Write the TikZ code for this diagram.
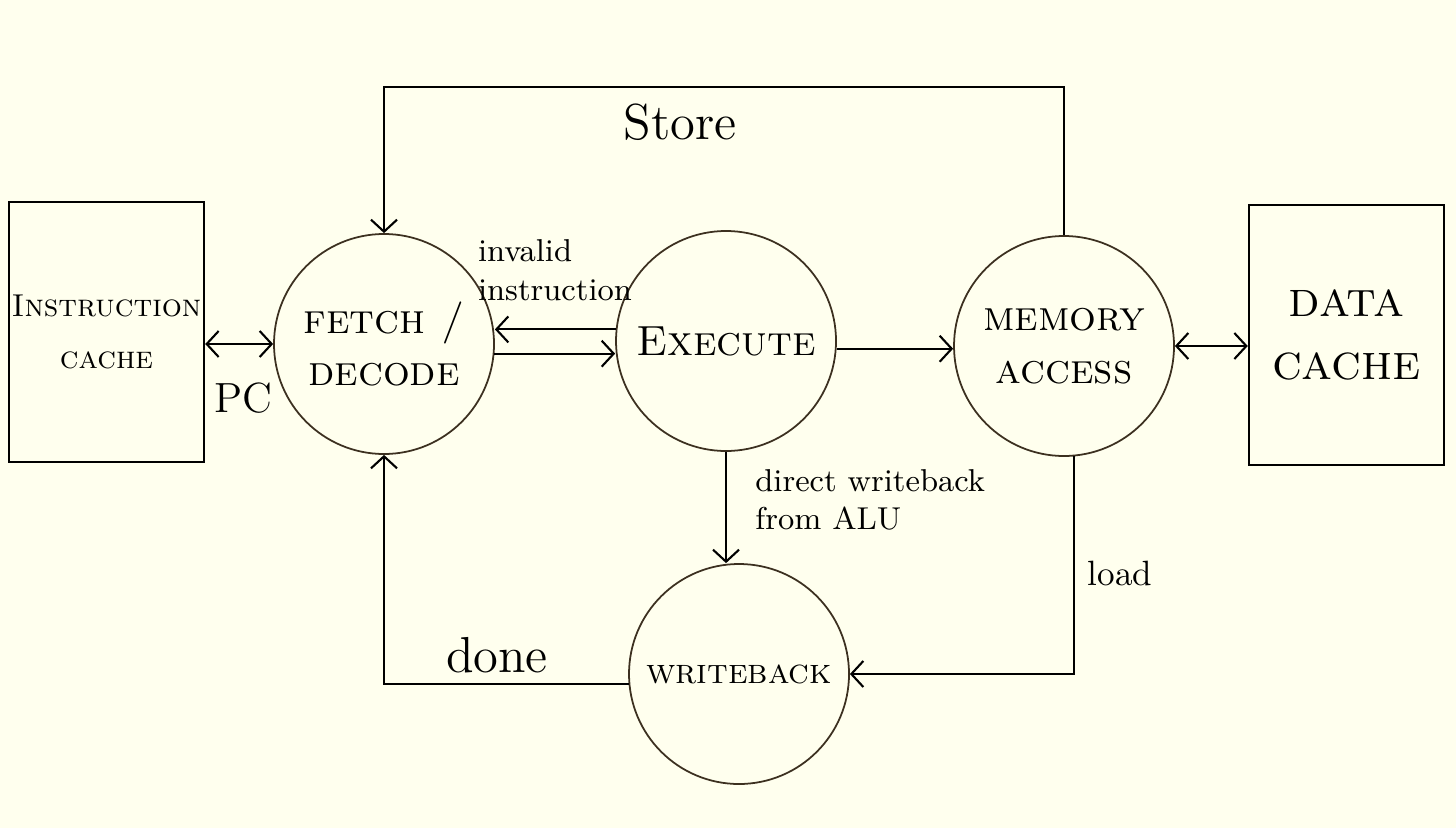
\documentclass[tikz,border=0pt]{standalone}
\usepackage{amsmath,amssymb}
\usepackage{tikz}
\usetikzlibrary{arrows.meta}
\definecolor{paper}{RGB}{255,255,238}
\definecolor{ink}{RGB}{60,48,32}

\begin{document}
\begin{tikzpicture}[
  stage/.style={circle,draw=ink,line width=0.5pt,minimum size=2.2cm,inner sep=0pt,align=center,font=\large},
  cache/.style={rectangle,draw=black,line width=0.7pt,minimum width=1.95cm,minimum height=2.6cm,inner sep=0pt,align=center},
  arr/.style={-{Straight Barb[length=1.2mm,width=2.6mm]},line width=0.6pt},
  arrs/.style={{Straight Barb[length=1.2mm,width=2.6mm]}-{Straight Barb[length=1.2mm,width=2.6mm]},line width=0.6pt}
]
\fill[paper] (0,0) rectangle (14.56,8.28);
\useasboundingbox (0,0) rectangle (14.56,8.28);

\draw (1.065,4.96) node[cache,font=\small] (IC) {\textsc{Instruction}\\[4pt]\textsc{cache}} +(12.4,-0.03) node[cache,font=\Large] (DC) {\textsc{data}\\[0pt]\textsc{cache}};
\draw (3.84,4.84) node[stage] (FD) {\textsc{fetch /}\\[1pt]\textsc{decode}} +(3.42,0.03) node[stage] (EX) {\textsc{Execute}} +(6.80,-0.02) node[stage] (MA) {\textsc{memory}\\[1pt]\textsc{access}} +(3.55,-3.30) node[stage,font=\normalsize] (WB) {\textsc{writeback}};

\node (ST) at (6.80,7.06) {\Large Store};
\node[align=left,font=\small] (INV) at (5.55,5.58) {invalid\\instruction};
\node (PC) at (2.43,4.30) {\large PC};
\node[align=left,font=\small,anchor=west] (DWB) at (7.43,3.28) {direct writeback\\ from ALU};
\node (LD) at (11.20,2.55) {load};
\node (DN) at (4.97,1.73) {\Large done};

\draw[arrs] (IC.east |- FD.west) -- (FD.west);
\draw[arr] (EX.174) -- (EX.174 -| FD.east);
\draw[arr] (FD.-5) -- (FD.-5 -| EX.west);
\draw[arr] (EX.-4) -- (EX.-4 -| MA.west);
\draw[arrs] (MA.east) -- (MA.east -| DC.west);
\draw[arr] (EX.south) -- (EX.south |- WB.north);
\draw[arr] (MA.-85) |- (WB.east);
\draw[arr] (MA.north) -- ++(0,1.48) -| (FD.north);
\draw[arr] (WB.185) -| (FD.south);
\end{tikzpicture}
\end{document}
